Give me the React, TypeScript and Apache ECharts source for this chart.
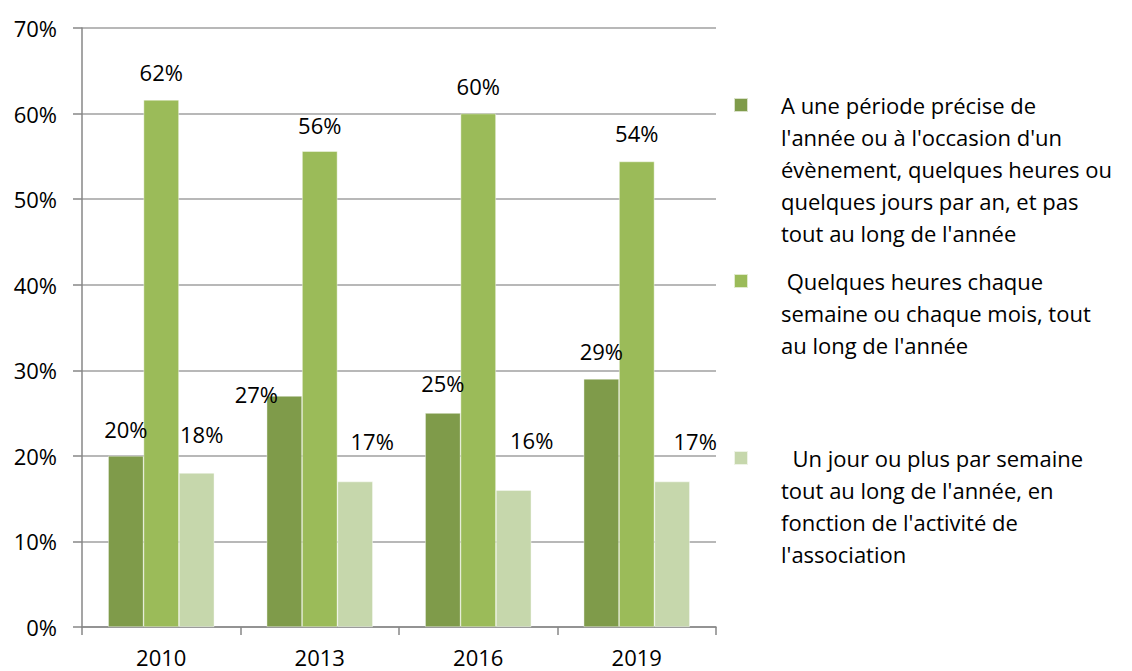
import React, { useEffect, useRef } from "react";
import * as echarts from "echarts";

const categories = ["2010", "2013", "2016", "2019"];
const seriesNames = [
  "A une période précise de\nl'année ou à l'occasion d'un\névènement, quelques heures ou\nquelques jours par an, et pas\ntout au long de l'année",
  " Quelques heures chaque\nsemaine ou chaque mois, tout\nau long de l'année",
  "  Un jour ou plus par semaine\ntout au long de l'année, en\nfonction de l'activité de\nl'association",
];
const periodeValues = [20, 27, 25, 29];
const hebdoMoisValues = [61.6, 55.6, 60, 54.4];
const jourSemaineValues = [18, 17, 16, 17];
const yTicks = { min: 0, max: 70, interval: 10 };

const colors = ["#7f9b4a", "#9bbb59", "#c6d7ac"];
// manual label placement (Excel-like hand-moved labels)
const labelOffsets = [
  [[0, -16], [-28, 9], [0, -19], [0, -17]],
  [[0, -17], [0, -15], [0, -17], [0, -17]],
  [[5, -28], [17, -30], [18, -39], [23, -30]],
];
const legendCenters = [105, 281, 458];
const FONT = "'Open Sans', 'Noto Sans', sans-serif";
const FS = 22;
const LH = 32;

export default function App() {
  const ref = useRef<HTMLDivElement>(null);
  useEffect(() => {
    if (!ref.current) return;
    const chart = echarts.init(ref.current, null, { renderer: "svg" });
    const values = [periodeValues, hebdoMoisValues, jourSemaineValues];
    const series = values.map((vals, si) => ({
      type: "bar",
      name: seriesNames[si],
      barGap: "0%",
      barCategoryGap: "33%",
      itemStyle: { color: colors[si], borderColor: "rgba(255,255,255,0.7)", borderWidth: 0.6 },
      data: vals.map((v, i) => ({
        value: v,
        label: { offset: labelOffsets[si][i] },
      })),
      label: {
        show: true,
        position: "top",
        distance: 0,
        formatter: (p: any) => Math.round(p.value) + "%",
        color: "#000",
        fontFamily: FONT,
        fontSize: FS,
      },
    }));
    const legends = seriesNames.map((name, i) => {
      const n = name.split("\n").length;
      return {
        data: [name],
        orient: "vertical",
        left: 733,
        top: legendCenters[i] - ((2 * n - 1) * LH) / 2,
        padding: 0,
        itemWidth: 14,
        itemHeight: 14,
        icon: "rect",
        selectedMode: false,
        formatter: (s: string) => " \n".repeat(n - 1) + s,
        textStyle: {
          fontFamily: FONT,
          fontSize: FS,
          color: "#000",
          lineHeight: LH,
          padding: [0, 0, 0, 28],
        },
      };
    });
    chart.setOption({
      animation: false,
      textStyle: { fontFamily: FONT },
      legend: legends,
      grid: { left: 82, right: 416, top: 28, bottom: 44, containLabel: false },
      xAxis: {
        type: "category",
        data: categories,
        axisLine: { lineStyle: { color: "#878787", width: 1.5 } },
        axisTick: { show: true, length: 8, lineStyle: { color: "#878787", width: 1.5 } },
        axisLabel: { color: "#000", fontSize: FS, fontFamily: FONT, margin: 19 },
      },
      yAxis: {
        type: "value",
        min: yTicks.min,
        max: yTicks.max,
        interval: yTicks.interval,
        axisLine: { show: true, lineStyle: { color: "#878787", width: 1.5 } },
        axisTick: { show: true, length: 9, lineStyle: { color: "#878787", width: 1.5 } },
        splitLine: { lineStyle: { color: "#a0a0a0", width: 1.5 } },
        axisLabel: { color: "#000", fontSize: FS, fontFamily: FONT, margin: 25, formatter: "{value}%" },
      },
      series,
    });
    return () => chart.dispose();
  }, []);
  return (
    <div
      ref={ref}
      style={{ position: "fixed", left: 0, top: 0, width: 1132, height: 671, background: "#fff" }}
    />
  );
}
